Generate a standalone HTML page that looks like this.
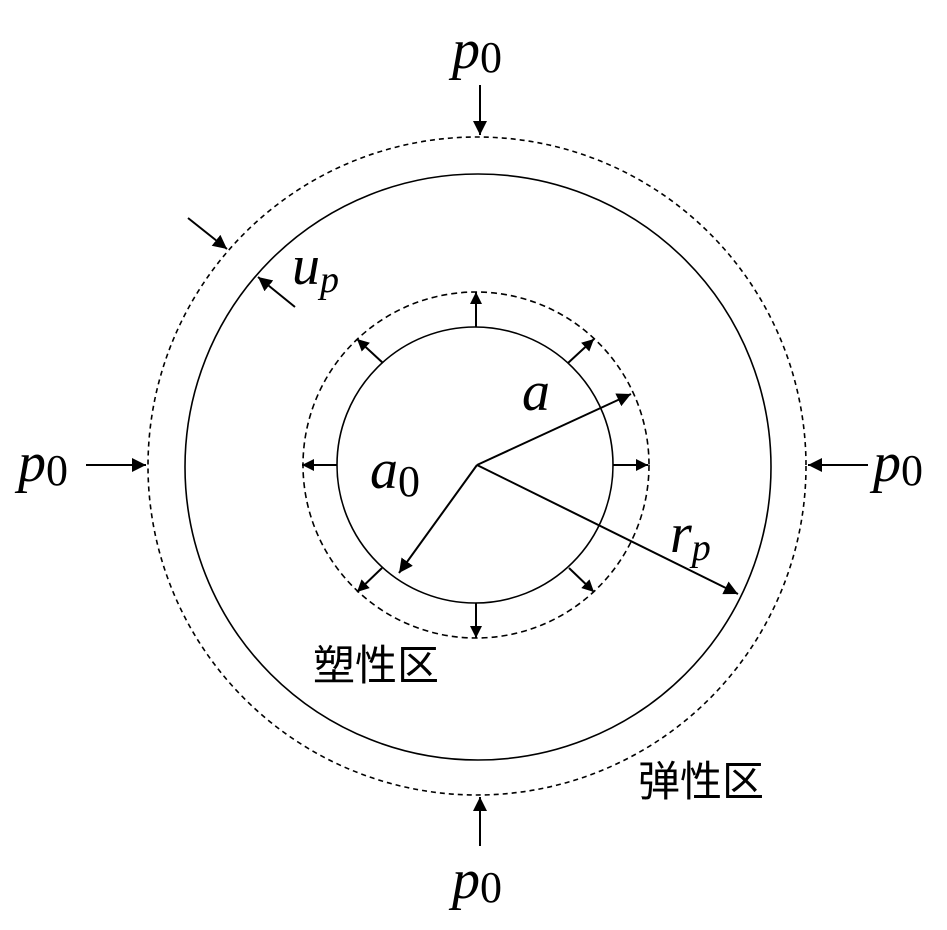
<!DOCTYPE html>
<html><head><style>body{margin:0;background:#fff}</style></head><body>
<svg width="947" height="925" viewBox="0 0 947 925" xmlns="http://www.w3.org/2000/svg">
<defs><marker id="ah" viewBox="0 0 10 10" refX="10" refY="5" markerWidth="12" markerHeight="12" markerUnits="userSpaceOnUse" orient="auto"><path d="M0,0L10,5L0,10z" fill="#000"/></marker>
<marker id="ah2" viewBox="0 0 10 10" refX="10" refY="5" markerWidth="14" markerHeight="14" markerUnits="userSpaceOnUse" orient="auto"><path d="M0,0L10,5L0,10z" fill="#000"/></marker></defs>
<g fill="none" stroke="#000" stroke-width="1.6">
<circle cx="477" cy="466" r="329" stroke-dasharray="5,4"/>
<circle cx="478" cy="467" r="293"/>
<circle cx="476" cy="465" r="173" stroke-dasharray="6,4"/>
<circle cx="475" cy="465" r="138"/>
</g>
<g stroke="#000" stroke-width="2" marker-end="url(#ah)">
<line x1="476" y1="327" x2="476" y2="292"/>
<line x1="476" y1="603" x2="476" y2="638"/>
<line x1="337" y1="465" x2="302" y2="465"/>
<line x1="613" y1="465" x2="648" y2="465"/>
<line x1="383" y1="363" x2="357" y2="339"/>
<line x1="568" y1="363" x2="594" y2="339"/>
<line x1="382" y1="568" x2="357" y2="592"/>
<line x1="569" y1="568" x2="594" y2="592"/>
</g>
<g stroke="#000" stroke-width="2" marker-end="url(#ah2)">
<line x1="477" y1="465" x2="631" y2="394"/>
<line x1="477" y1="465" x2="399" y2="573"/>
<line x1="477" y1="465" x2="738" y2="594"/>
<line x1="480" y1="85" x2="480" y2="135"/>
<line x1="480" y1="846" x2="480" y2="797"/>
<line x1="86" y1="465" x2="146" y2="465"/>
<line x1="868" y1="465" x2="808" y2="465"/>
<line x1="188" y1="218" x2="227" y2="249"/>
<line x1="295" y1="307" x2="258" y2="277"/>
</g>
<g font-family="Liberation Serif, serif" font-style="italic" font-size="56">
<text x="452" y="68">p<tspan font-style="normal" font-size="44" dy="4">0</tspan></text>
<text x="452" y="898">p<tspan font-style="normal" font-size="44" dy="4">0</tspan></text>
<text x="18" y="481">p<tspan font-style="normal" font-size="44" dy="4">0</tspan></text>
<text x="873" y="481">p<tspan font-style="normal" font-size="44" dy="4">0</tspan></text>
<text x="292" y="284">u<tspan font-size="38" dy="8">p</tspan></text>
<text x="522" y="410">a</text>
<text x="370" y="488">a<tspan font-style="normal" font-size="44" dy="8">0</tspan></text>
<text x="670" y="552">r<tspan font-size="38" dy="8">p</tspan></text>
</g>
<g font-family="Liberation Sans, Noto Sans CJK SC, sans-serif" font-size="42">
<text x="313" y="680">塑性区</text>
<text x="638" y="796">弹性区</text>
</g>
</svg>
</body></html>
